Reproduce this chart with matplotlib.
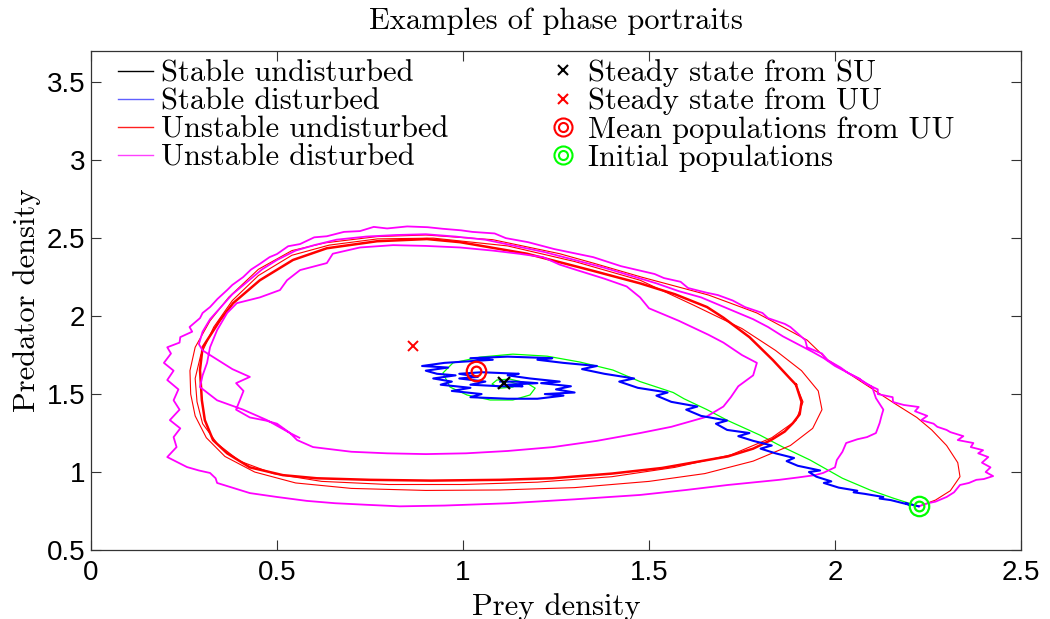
import matplotlib
matplotlib.use("Agg")
import matplotlib.pyplot as plt
from matplotlib.lines import Line2D
from matplotlib.path import Path

# steady states / special points
ss_su = (1.11, 1.57)
ss_uu = (0.866, 1.81)
mean_uu = (1.035, 1.65)
init_pop = (2.225, 0.78)

# stable undisturbed (drawn green in the original)
green_x = [2.225, 2.156, 2.094, 2.02, 1.933, 1.86, 1.798, 1.712, 1.656, 1.594, 1.565, 1.476,
           1.403, 1.315, 1.226, 1.134, 1.046, 0.973, 0.946, 0.965, 1.011, 1.073, 1.134, 1.18,
           1.194, 1.172, 1.126, 1.091, 1.078, 1.10, 1.134, 1.145, 1.125, 1.105, 1.11]
green_y = [0.78, 0.833, 0.885, 0.96, 1.077, 1.16, 1.237, 1.33, 1.40, 1.47, 1.51, 1.58,
           1.654, 1.705, 1.743, 1.756, 1.737, 1.70, 1.635, 1.545, 1.494, 1.462, 1.462, 1.494,
           1.538, 1.57, 1.596, 1.59, 1.564, 1.538, 1.545, 1.565, 1.58, 1.572, 1.565]

# stable disturbed
blue_x = [2.225, 2.19, 2.20, 2.15, 2.12, 2.13, 2.08, 2.05, 2.06, 2.01, 1.97, 1.99, 1.95, 1.93,
          1.96, 1.90, 1.87, 1.89, 1.84, 1.80, 1.83, 1.78, 1.74, 1.77, 1.71, 1.68, 1.71, 1.64,
          1.60, 1.63, 1.56, 1.52, 1.55, 1.47, 1.42, 1.46, 1.38, 1.32, 1.36, 1.27, 1.20, 1.24,
          1.12, 1.02, 1.08, 0.95, 0.89, 0.96, 0.90, 0.93, 0.98, 0.92, 0.97, 0.94, 1.02, 0.97,
          1.05, 1.02, 1.12, 1.20, 1.27, 1.22, 1.30, 1.25, 1.29, 1.21, 1.26, 1.18, 1.12, 1.15,
          1.05, 0.99, 1.04, 0.99, 1.06, 1.02, 1.10, 1.16, 1.12, 1.20, 1.14, 1.10]
blue_y = [0.78, 0.80, 0.79, 0.82, 0.83, 0.84, 0.86, 0.87, 0.88, 0.90, 0.93, 0.94, 0.97, 1.00,
          1.01, 1.04, 1.07, 1.09, 1.12, 1.15, 1.17, 1.20, 1.23, 1.25, 1.27, 1.31, 1.33, 1.36,
          1.40, 1.42, 1.45, 1.49, 1.51, 1.54, 1.58, 1.60, 1.63, 1.66, 1.68, 1.70, 1.72, 1.73,
          1.74, 1.73, 1.72, 1.70, 1.68, 1.67, 1.65, 1.63, 1.62, 1.60, 1.58, 1.56, 1.54, 1.52,
          1.50, 1.48, 1.47, 1.47, 1.49, 1.50, 1.51, 1.53, 1.55, 1.57, 1.58, 1.60, 1.62, 1.63,
          1.64, 1.63, 1.61, 1.60, 1.58, 1.56, 1.55, 1.55, 1.56, 1.57, 1.58, 1.58]

# unstable undisturbed: transient loops
red_x = [2.225, 2.27, 2.31, 2.336, 2.33, 2.30, 2.26, 2.22, 2.16, 2.07, 1.98, 1.925, 1.86, 1.79,
         1.66, 1.48, 1.35, 1.26, 1.08, 0.90, 0.77, 0.63, 0.54, 0.45, 0.37, 0.32, 0.28, 0.266,
         0.268, 0.28, 0.31, 0.36, 0.44, 0.55, 0.70, 0.90, 1.10, 1.30, 1.50, 1.65, 1.78, 1.88,
         1.94, 1.965, 1.955, 1.91, 1.84, 1.75, 1.62, 1.476, 1.30, 1.12, 0.92, 0.77, 0.64, 0.54,
         0.45, 0.38, 0.33, 0.295, 0.28, 0.285, 0.30, 0.34, 0.40, 0.49, 0.62, 0.80, 1.00, 1.20,
         1.40, 1.57, 1.72, 1.83, 1.895, 1.914, 1.895]
red_y = [0.78, 0.82, 0.88, 0.97, 1.06, 1.17, 1.27, 1.35, 1.44, 1.58, 1.72, 1.846, 1.93, 2.02,
         2.135, 2.25, 2.34, 2.40, 2.49, 2.52, 2.51, 2.47, 2.42, 2.30, 2.12, 1.97, 1.80, 1.65,
         1.50, 1.36, 1.22, 1.10, 1.00, 0.93, 0.895, 0.882, 0.885, 0.90, 0.94, 0.99, 1.07, 1.17,
         1.28, 1.40, 1.52, 1.65, 1.78, 1.92, 2.07, 2.23, 2.35, 2.45, 2.50, 2.495, 2.455, 2.39,
         2.26, 2.10, 1.93, 1.75, 1.60, 1.45, 1.31, 1.18, 1.07, 0.99, 0.94, 0.92, 0.92, 0.935,
         0.97, 1.03, 1.11, 1.22, 1.33, 1.45, 1.56]

# unstable undisturbed: converged limit cycle
cyc_x = [1.895, 1.879, 1.833, 1.77, 1.70, 1.656, 1.57, 1.476, 1.35, 1.172, 0.992, 0.903, 0.769,
         0.634, 0.543, 0.454, 0.382, 0.347, 0.30, 0.293, 0.298, 0.306, 0.328, 0.366, 0.427,
         0.516, 0.607, 0.75, 0.914, 1.10, 1.24, 1.40, 1.535, 1.64, 1.712, 1.78, 1.828, 1.865,
         1.887, 1.905, 1.91, 1.895]
cyc_y = [1.56, 1.60, 1.718, 1.865, 1.99, 2.058, 2.14, 2.21, 2.29, 2.40, 2.474, 2.494, 2.48,
         2.435, 2.36, 2.23, 2.083, 1.974, 1.80, 1.654, 1.46, 1.333, 1.205, 1.12, 1.03,
         0.98, 0.96, 0.95, 0.945, 0.95, 0.96, 0.99, 1.026, 1.07, 1.10, 1.15, 1.205, 1.26,
         1.314, 1.37, 1.45, 1.56]

# unstable disturbed
mag_x = [2.225, 2.25, 2.27, 2.30, 2.32, 2.336, 2.36, 2.38, 2.40, 2.425, 2.405, 2.418, 2.395,
         2.412, 2.385, 2.398, 2.365, 2.372, 2.33, 2.345, 2.31, 2.30, 2.275, 2.265, 2.232, 2.248,
         2.215, 2.225, 2.185, 2.156, 2.155, 2.115, 2.115, 2.08, 2.065, 2.035, 2.015, 1.98, 1.965,
         1.925, 1.92, 1.88, 1.865, 1.82, 1.805, 1.758, 1.725, 1.685, 1.655, 1.605, 1.585, 1.54,
         1.515, 1.47, 1.425, 1.35, 1.305, 1.245, 1.175, 1.115, 1.085, 1.025, 0.995, 0.945, 0.905,
         0.85, 0.796, 0.76, 0.723, 0.68, 0.634, 0.60, 0.562, 0.53, 0.50, 0.48, 0.454, 0.43,
         0.409, 0.38, 0.366, 0.34, 0.32, 0.30, 0.293, 0.265, 0.272, 0.240, 0.238, 0.205, 0.215,
         0.196, 0.222, 0.205, 0.235, 0.222, 0.238, 0.212, 0.240, 0.222, 0.230, 0.205, 0.235,
         0.258, 0.29, 0.32, 0.335, 0.339, 0.38, 0.427, 0.50, 0.58, 0.656, 0.74, 0.83, 0.95,
         1.124, 1.30, 1.476, 1.60, 1.712, 1.85, 1.90, 1.946, 1.968, 2.00, 2.005, 2.02, 2.03,
         2.06, 2.086, 2.11, 2.12, 2.125, 2.13, 2.11, 2.10, 2.07, 2.04, 2.00, 1.97, 1.94, 1.90,
         1.86, 1.82, 1.78, 1.74, 1.69, 1.64, 1.58, 1.52, 1.45, 1.38, 1.30, 1.22, 1.14, 1.06,
         0.98, 0.90, 0.82, 0.74, 0.66, 0.60, 0.55, 0.50, 0.46, 0.42, 0.38, 0.35, 0.32, 0.30,
         0.29, 0.30, 0.34, 0.38, 0.427, 0.39, 0.41, 0.40, 0.39, 0.427, 0.47, 0.50, 0.535,
         0.554, 0.597, 0.70, 0.796, 0.90, 1.008, 1.12, 1.242, 1.36, 1.476, 1.56, 1.653, 1.70,
         1.72, 1.74, 1.78, 1.79, 1.75, 1.70, 1.66, 1.58, 1.50, 1.476, 1.44, 1.38, 1.306, 1.26,
         1.215, 1.15, 1.08, 0.992, 0.90, 0.812, 0.723, 0.65, 0.634, 0.562, 0.527, 0.508,
         0.454, 0.392, 0.366, 0.339, 0.32, 0.312, 0.30, 0.293, 0.339, 0.409, 0.473, 0.535, 0.56]
mag_y = [0.78, 0.80, 0.81, 0.84, 0.87, 0.917, 0.93, 0.95, 0.955, 0.974, 1.00, 1.03, 1.06,
         1.096, 1.12, 1.14, 1.16, 1.186, 1.205, 1.23, 1.256, 1.27, 1.29, 1.31, 1.333, 1.36,
         1.39, 1.417, 1.43, 1.449, 1.48, 1.50, 1.53, 1.57, 1.60, 1.635, 1.67, 1.718, 1.76,
         1.80, 1.846, 1.93, 1.95, 1.987, 2.02, 2.058, 2.10, 2.135, 2.15, 2.18, 2.22, 2.244,
         2.27, 2.295, 2.32, 2.378, 2.40, 2.43, 2.474, 2.50, 2.53, 2.54, 2.55, 2.56, 2.57,
         2.575, 2.562, 2.572, 2.545, 2.54, 2.512, 2.505, 2.462, 2.448, 2.398, 2.378, 2.335, 2.298,
         2.25, 2.20, 2.167, 2.11, 2.058, 2.02, 1.987, 1.93, 1.90, 1.865, 1.83, 1.80, 1.76,
         1.70, 1.65, 1.59, 1.53, 1.46, 1.40, 1.333, 1.28, 1.224, 1.16, 1.096, 1.06,
         1.032, 1.01, 0.994, 0.96, 0.93, 0.90, 0.865, 0.84, 0.815, 0.80, 0.79, 0.78, 0.785,
         0.80, 0.825, 0.853, 0.885, 0.917, 0.95, 0.965, 0.98, 0.994, 1.03, 1.077, 1.13, 1.186,
         1.21, 1.224, 1.25, 1.314, 1.36, 1.40, 1.474, 1.545, 1.59, 1.63, 1.68, 1.73, 1.77, 1.82,
         1.87, 1.93, 1.98, 2.02, 2.07, 2.12, 2.16, 2.21, 2.26, 2.31, 2.36, 2.41, 2.45, 2.49,
         2.51, 2.525, 2.52, 2.51, 2.49, 2.455, 2.42, 2.36, 2.30, 2.22, 2.14, 2.06, 1.98, 1.90,
         1.82, 1.78, 1.72, 1.66, 1.61, 1.57, 1.52, 1.46, 1.40, 1.35, 1.33, 1.31, 1.25,
         1.205, 1.16, 1.13, 1.12, 1.115, 1.12, 1.135, 1.16, 1.20, 1.25, 1.29, 1.353, 1.42,
         1.48, 1.55, 1.62, 1.70, 1.75, 1.83, 1.88, 1.97, 2.05, 2.12, 2.19, 2.24, 2.295, 2.33,
         2.378, 2.40, 2.42, 2.44, 2.45, 2.455, 2.44, 2.40, 2.34, 2.295, 2.23, 2.167,
         2.12, 2.083, 2.02, 1.91, 1.80, 1.70, 1.62, 1.545, 1.46, 1.40, 1.333, 1.25, 1.22]

xticks = [0, 0.5, 1, 1.5, 2, 2.5]
yticks = [0.5, 1, 1.5, 2, 2.5, 3, 3.5]

serif = "cmr10"
plt.rcParams["axes.formatter.use_mathtext"] = True

fig = plt.figure(figsize=(10.5, 6.19), dpi=100)
ax = fig.add_axes([91 / 1050, 1 - 550 / 619, (1021 - 91) / 1050, (550 - 51) / 619])

ax.plot(green_x, green_y, color="#00ff00", lw=0.9)
ax.plot(red_x, red_y, color="#ff0000", lw=0.8)
ax.plot(cyc_x, cyc_y, color="#ff0000", lw=1.8)
ax.plot(mag_x, mag_y, color="#ff00ff", lw=1.3)
ax.plot(blue_x, blue_y, color="#0000ff", lw=1.5)

c = Path.unit_circle()
ring = Path.make_compound_path(c, Path(c.vertices * 0.5, c.codes))

ax.plot(*ss_su, ls="none", marker="x", color="k", ms=8, mew=1.6)
ax.plot(*ss_uu, ls="none", marker="x", color="#ff0000", ms=7, mew=1.4)
ax.plot(*mean_uu, ls="none", marker=ring, mfc="none", mec="#ff0000", ms=14, mew=1.6)
ax.plot(*init_pop, ls="none", marker=ring, mfc="none", mec="#00ff00", ms=14, mew=1.6)

ax.set_xlim(0, 2.5)
ax.set_ylim(0.5, 3.7)
ax.set_xticks(xticks)
ax.set_xticklabels(["0", "0.5", "1", "1.5", "2", "2.5"])
ax.set_yticks(yticks)
ax.set_yticklabels(["0.5", "1", "1.5", "2", "2.5", "3", "3.5"])
ax.tick_params(direction="in", length=7, width=0.8, top=True, right=True,
               labelsize=20, color="#333333")
ax.tick_params(axis="x", pad=7)
ax.tick_params(axis="y", pad=4)
for lab in ax.get_xticklabels() + ax.get_yticklabels():
    lab.set_family("Liberation Sans")
for s in ax.spines.values():
    s.set_color("#333333")
    s.set_linewidth(0.9)

ax.set_title("Examples of phase portraits", family=serif, fontsize=22, pad=16)
ax.set_xlabel("Prey density", family=serif, fontsize=22, labelpad=5)
ax.set_ylabel("Predator density", family=serif, fontsize=22, labelpad=4)

h1 = [Line2D([], [], color="k", lw=1),
      Line2D([], [], color="#6060ff", lw=1),
      Line2D([], [], color="#ff2020", lw=1),
      Line2D([], [], color="#ff40ff", lw=1)]
l1 = ["Stable undisturbed", "Stable disturbed", "Unstable undisturbed", "Unstable disturbed"]
h2 = [Line2D([], [], ls="none", marker="x", color="k", ms=7, mew=1.5),
      Line2D([], [], ls="none", marker="x", color="#ff0000", ms=7, mew=1.5),
      Line2D([], [], ls="none", marker=ring, mfc="none", mec="#ff0000", ms=13, mew=1.5),
      Line2D([], [], ls="none", marker=ring, mfc="none", mec="#00ff00", ms=13, mew=1.5)]
l2 = ["Steady state from SU", "Steady state from UU", "Mean populations from UU",
      "Initial populations"]

kw = dict(loc="upper left", frameon=False, borderpad=0, borderaxespad=0,
          handlelength=1.15, handletextpad=0.25, labelspacing=0.02,
          prop={"family": serif, "size": 22}, bbox_transform=fig.transFigure)
leg1 = ax.legend(h1, l1, bbox_to_anchor=(118 / 1050, 1 - 60 / 619), **kw)
ax.add_artist(leg1)
ax.legend(h2, l2, bbox_to_anchor=(545 / 1050, 1 - 59 / 619), **kw)

fig.savefig("out.png", dpi=100)
